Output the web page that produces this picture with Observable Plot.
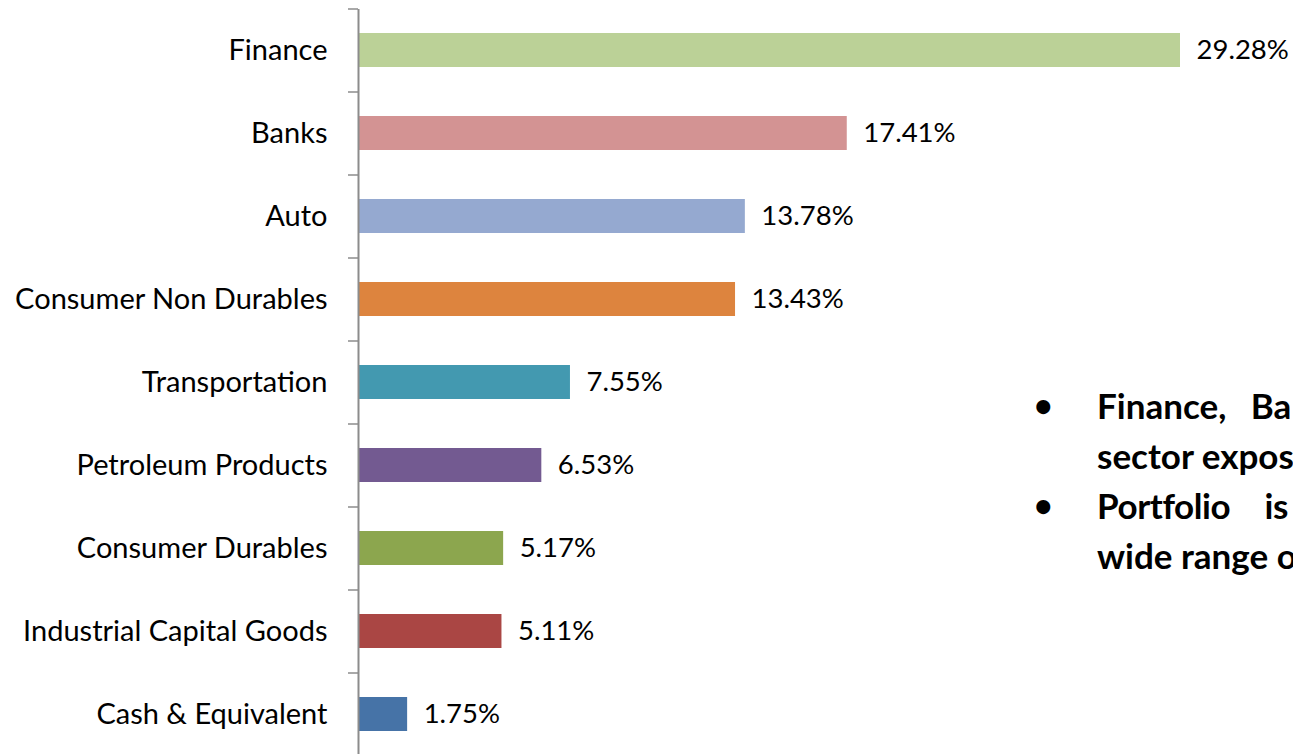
<!DOCTYPE html>
<html>
<head>
<meta charset="utf-8">
<script src="https://cdn.jsdelivr.net/npm/d3@7"></script>
<script src="https://cdn.jsdelivr.net/npm/@observablehq/plot@0.6"></script>
<style>
  html, body { margin: 0; padding: 0; background: #fff; overflow: hidden; }
  #wrap { position: relative; width: 1293px; height: 754px; overflow: hidden; font-family: Lato, "Open Sans", sans-serif; }
  #notes { position: absolute; left: 1030px; top: 380px; margin: 0; padding: 0; list-style: none;
           font-family: Lato, "Open Sans", sans-serif; font-weight: bold; font-size: 35px; line-height: 50px; color: #000; }
  #notes li { position: relative; padding-left: 67px; width: 700px; }
  #notes li::before { content: "•"; position: absolute; left: 4px; top: 0; font-size: 32px; }
  #notes .l { display: block; white-space: nowrap; }
  #notes .w1 { word-spacing: 16px; }
  #notes .w3 { word-spacing: 26px; letter-spacing: -0.4px; }
</style>
</head>
<body>
<div id="wrap">
  <div id="chart"></div>
  <ul id="notes">
    <li><span class="l w1">Finance, Banks &amp; Auto are the top</span><span class="l">sector exposures of the scheme</span></li>
    <li><span class="l w3">Portfolio is diversified across a</span><span class="l">wide range of sectors</span></li>
  </ul>
</div>
<script>
const sectors = ["Finance", "Banks", "Auto", "Consumer Non Durables", "Transportation",
                 "Petroleum Products", "Consumer Durables", "Industrial Capital Goods", "Cash & Equivalent"];
const weights = [29.28, 17.41, 13.78, 13.43, 7.55, 6.53, 5.17, 5.11, 1.75];
const colors = ["#BBD197", "#D39393", "#95A9D0", "#DD843E", "#4399B0",
                "#735A91", "#8CA64E", "#AA4644", "#4673A7"];

const data = sectors.map((s, i) => ({sector: s, value: weights[i]}));

const chart = Plot.plot({
  width: 1293,
  height: 754,
  marginTop: 9,
  marginBottom: 0,
  marginLeft: 358,
  marginRight: 113,
  style: {fontFamily: "Lato, 'Open Sans', sans-serif", background: "#fff", overflow: "visible"},
  x: {domain: [0, 29.28], range: [358, 1180], axis: null},
  y: {domain: sectors, range: [9, 756], paddingInner: 0.59, paddingOuter: 0.295, label: null},
  color: {domain: sectors, range: colors},
  marks: [
    Plot.barX(data, {x: "value", y: "sector", fill: "sector"}),
    Plot.text(data, {x: "value", y: "sector", text: d => d.value.toFixed(2) + "%",
                     textAnchor: "start", dx: 16, fontSize: 27.5, fill: "#000"}),
    Plot.axisY({tickSize: 10, text: null, dy: -41.5, stroke: "#8c8c8c", strokeWidth: 1.5}),
    Plot.axisY({tickSize: 0, tickPadding: 31, fontSize: 29, fill: "#000"}),
    Plot.ruleX([0], {stroke: "#8c8c8c", strokeWidth: 2})
  ]
});
document.getElementById("chart").appendChild(chart);
</script>
</body>
</html>
